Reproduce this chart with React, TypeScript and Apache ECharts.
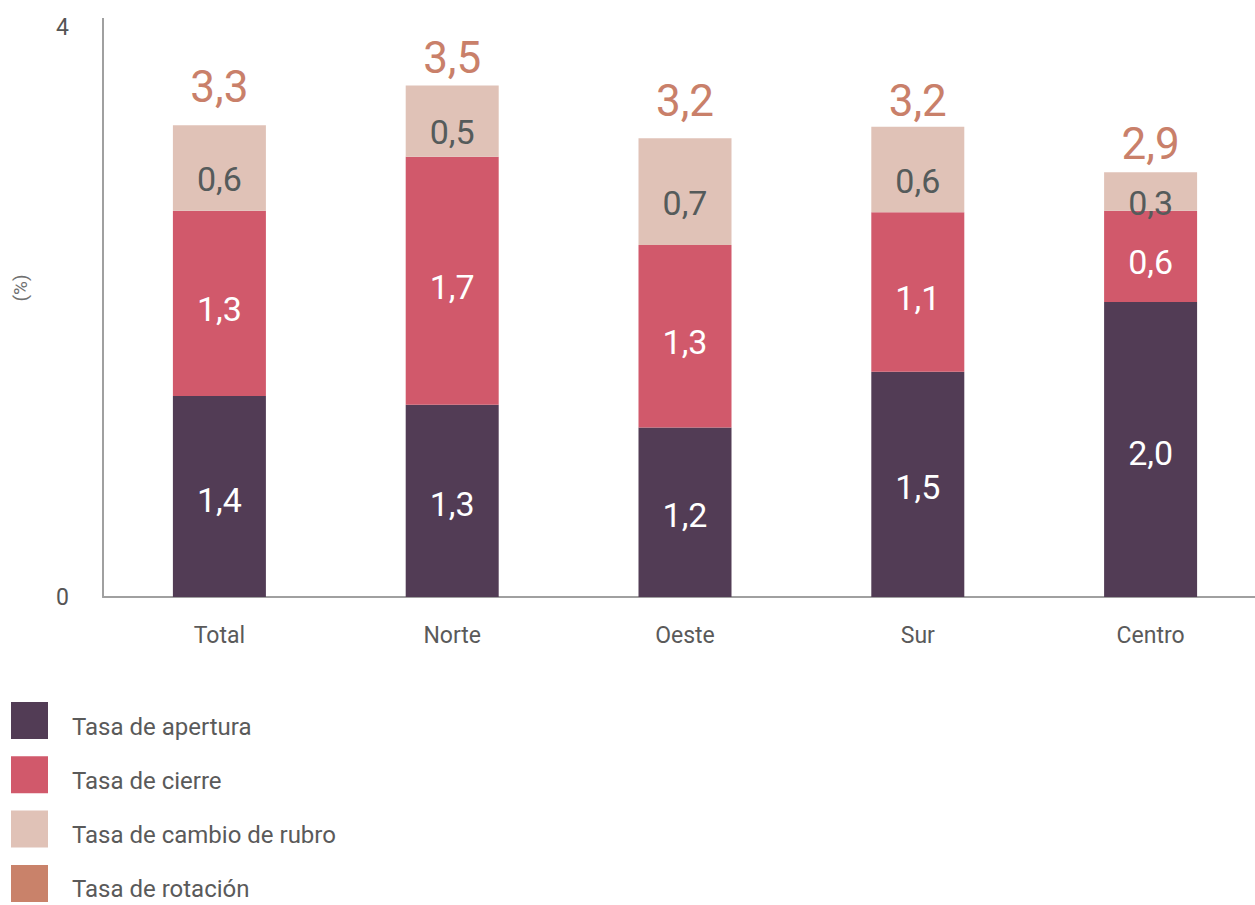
import React, { useEffect, useRef } from "react";
import * as echarts from "echarts";

const categories = ["Total", "Norte", "Oeste", "Sur", "Centro"];
const apertura = [1.41, 1.35, 1.19, 1.58, 2.07];
const cierre = [1.3, 1.74, 1.28, 1.12, 0.64];
const cambioRubro = [0.6, 0.5, 0.75, 0.6, 0.27];
const rotacion = [3.3, 3.5, 3.2, 3.2, 2.9];
const aperturaLabels = ["1,4", "1,3", "1,2", "1,5", "2,0"];
const cierreLabels = ["1,3", "1,7", "1,3", "1,1", "0,6"];
const cambioLabels = ["0,6", "0,5", "0,7", "0,6", "0,3"];
const rotacionLabels = ["3,3", "3,5", "3,2", "3,2", "2,9"];
const yTicks = [0, 4];
const yAxisTitle = "(%)";

const FONT = "Roboto";

export default function App() {
  const ref = useRef<HTMLDivElement>(null);
  useEffect(() => {
    document.body.style.margin = "0";
    if (!ref.current) return;
    const chart = echarts.init(ref.current, null, { renderer: "svg" });
    chart.setOption({
      animation: false,
      textStyle: { fontFamily: FONT },
      grid: {
        left: 103,
        top: 27,
        bottom: 308,
        width: 1164,
        containLabel: false,
        outerBoundsMode: "none",
      },
      legend: {
        orient: "vertical",
        left: 11,
        top: 702,
        height: 240,
        padding: 0,
        itemWidth: 37,
        itemHeight: 37,
        itemGap: 17.3,
        icon: "rect",
        formatter: (name: string) => `{s| }\n{t|${name}}`,
        textStyle: {
          fontSize: 24,
          color: "#5a5a5a",
          fontFamily: FONT,
          padding: [0, 0, 0, 19],
          rich: {
            s: { fontSize: 1, lineHeight: 12 },
            t: { fontSize: 24, lineHeight: 24, color: "#5a5a5a", fontFamily: FONT },
          },
        },
        data: ["Tasa de apertura", "Tasa de cierre", "Tasa de cambio de rubro", "Tasa de rotación"],
      },
      xAxis: {
        type: "category",
        data: categories,
        axisTick: { show: false },
        axisLine: { lineStyle: { color: "#a0a0a0", width: 2 } },
        axisLabel: { fontSize: 23, color: "#5a5a5a", margin: 27, fontFamily: FONT },
      },
      yAxis: {
        type: "value",
        min: yTicks[0],
        max: yTicks[1],
        interval: yTicks[1] - yTicks[0],
        splitLine: { show: false },
        axisTick: { show: false },
        axisLine: { show: true, lineStyle: { color: "#a0a0a0", width: 2 } },
        axisLabel: { fontSize: 23, color: "#555555", margin: 34, fontFamily: FONT },
      },
      graphic: [
        {
          type: "line",
          shape: { x1: 103, y1: 18, x2: 103, y2: 28 },
          style: { stroke: "#a0a0a0", lineWidth: 2 },
        },
        {
          type: "text",
          x: 20,
          y: 288,
          rotation: Math.PI / 2,
          style: {
            text: yAxisTitle,
            fontSize: 19,
            fontFamily: FONT,
            fill: "#707070",
            align: "center",
            verticalAlign: "middle",
          },
        },
      ],
      series: [
        {
          name: "Tasa de apertura",
          type: "bar",
          stack: "a",
          barWidth: 93,
          data: apertura,
          itemStyle: { color: "#523c55" },
          label: {
            show: true,
            position: "inside",
            offset: [0, 3],
            fontSize: 34,
            color: "#ffffff",
            fontFamily: FONT,
            formatter: (p: any) => aperturaLabels[p.dataIndex],
          },
        },
        {
          name: "Tasa de cierre",
          type: "bar",
          stack: "a",
          barWidth: 93,
          data: cierre,
          itemStyle: { color: "#d1596b" },
          label: {
            show: true,
            position: "inside",
            offset: [0, 6],
            fontSize: 34,
            color: "#ffffff",
            fontFamily: FONT,
            formatter: (p: any) => cierreLabels[p.dataIndex],
          },
        },
        {
          name: "Tasa de cambio de rubro",
          type: "bar",
          stack: "a",
          barWidth: 93,
          data: cambioRubro,
          itemStyle: { color: "#e0c2b7" },
          label: {
            show: true,
            position: "inside",
            offset: [0, 11],
            fontSize: 34,
            color: "#555b5b",
            fontFamily: FONT,
            formatter: (p: any) => cambioLabels[p.dataIndex],
          },
        },
        {
          name: "Tasa de rotación",
          type: "scatter",
          data: rotacion,
          symbolSize: 0,
          itemStyle: { color: "#c9826a", opacity: 1 },
          label: {
            show: true,
            position: "top",
            distance: 18,
            fontSize: 44,
            color: "#c9806a",
            opacity: 1,
            fontFamily: FONT,
            formatter: (p: any) => rotacionLabels[p.dataIndex],
          },
        },
      ],
    });
    return () => chart.dispose();
  }, []);
  return <div ref={ref} style={{ width: 1255, height: 905 }} />;
}
